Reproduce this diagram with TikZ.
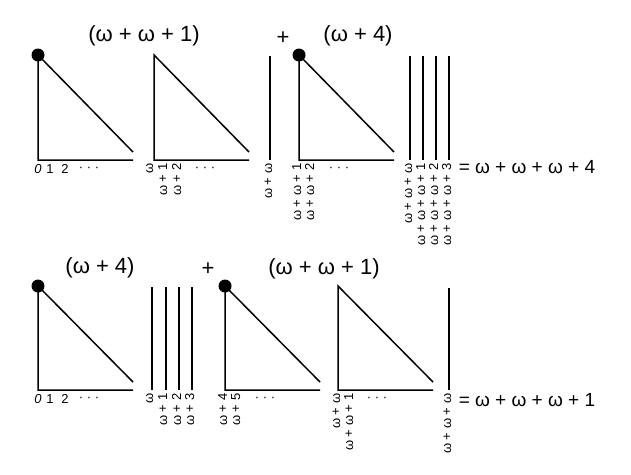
\documentclass[tikz,border=0pt]{standalone}
\usepackage{fontspec}
\usepackage{tikz}
\newfontfamily\sumfont{Liberation Sans}
\newfontfamily\tickfont{Liberation Sans}

\begin{document}
\begin{tikzpicture}[x=1pt, y=-1pt, line width=1.5pt,
    tick/.style={font=\tickfont\fontsize{13}{14}\selectfont, rotate=90, anchor=mid east, inner sep=0pt},
    flat/.style={font=\tickfont\fontsize{13}{14}\selectfont, anchor=base, inner sep=0pt},
    sum/.style={font=\sumfont\fontsize{22}{26}\selectfont, inner sep=0pt},
    eq/.style={font=\sumfont\fontsize{19}{23}\selectfont, anchor=west, inner sep=0pt},
    start/.style={circle, fill, inner sep=0pt, minimum size=13pt}]
  \useasboundingbox (0,0) rectangle (631,474);
  %top row: (w+w+1)
  \draw (133,152) -- (38,55) -- (38,160) -- (133,160);
  \draw (249,152) -- (154,55) -- (154,160) -- (249,160);
  \draw (270,56) -- (270,160);
  %top row: (w+4)
  \draw (394,152) -- (299,55) -- (299,160) -- (394,160);
  \foreach \x in {410,423,436,449} \draw (\x,56) -- (\x,160);
  \node[start] (ta) at (38,55) {};
  \node[start] (tb) at (299,55) {};
  %top sums
  \node[sum] (tl) at (144,36) {(ω + ω + 1)};
  \node[sum] (tp) at (283,38) {+};
  \node[sum] (tr) at (358,36) {(ω + 4)};
  \node[eq] (te) at (458,167) {= ω + ω + ω + 4};
  %top labels
  \node[flat] (t0) at (38,173) {\textit{0}};
  \node[flat] (t1) at (50,173) {1};
  \node[flat] (t2) at (65,173) {2};
  \node[flat] (td1) at (89,171) {· · ·};
  \node[tick] (tw) at (151,163) {ω};
  \node[tick] (tw1) at (165,163) {ω + 1};
  \node[tick] (tw2) at (179,163) {ω + 2};
  \node[flat] (td2) at (205,171) {· · ·};
  \node[tick] (tww) at (270,163) {ω + ω};
  \node[tick] (tww1) at (299,163) {ω + ω + 1};
  \node[tick] (tww2) at (312,163) {ω + ω + 2};
  \node[flat] (td3) at (339,171) {· · ·};
  \node[tick] (twww) at (410,163) {ω + ω + ω};
  \foreach \n/\x in {1/423,2/436,3/449}
    \node[tick] (twww\n) at (\x,163) {ω + ω + ω + \n};

  %bottom row: (w+4)
  \draw (133,382) -- (38,286) -- (38,390) -- (133,390);
  \foreach \x in {152,166,179,192} \draw (\x,287) -- (\x,390);
  %bottom row: (w+w+1)
  \draw (320,382) -- (225,286) -- (225,390) -- (320,390);
  \draw (433,382) -- (338,286) -- (338,390) -- (433,390);
  \draw (449,288) -- (449,390);
  \node[start] (ba) at (38,286) {};
  \node[start] (bb) at (225,286) {};
  %bottom sums
  \node[sum] (bl) at (100,268) {(ω + 4)};
  \node[sum] (bp) at (208,269) {+};
  \node[sum] (br) at (324,269) {(ω + ω + 1)};
  \node[eq] (be) at (458,400) {= ω + ω + ω + 1};
  %bottom labels
  \node[flat] (b0) at (38,403) {\textit{0}};
  \node[flat] (b1) at (50,403) {1};
  \node[flat] (b2) at (65,403) {2};
  \node[flat] (bd1) at (89,401) {· · ·};
  \node[tick] (bw) at (151,393) {ω};
  \foreach \n/\x in {1/165,2/179,3/192}
    \node[tick] (bw\n) at (\x,393) {ω + \n};
  \node[tick] (bw4) at (225,393) {ω + 4};
  \node[tick] (bw5) at (238,393) {ω + 5};
  \node[flat] (bd2) at (265,401) {· · ·};
  \node[tick] (bww) at (338,393) {ω + ω};
  \node[tick] (bww1) at (351,393) {ω + ω + 1};
  \node[flat] (bd3) at (377,401) {· · ·};
  \node[tick] (bwww) at (449,393) {ω + ω + ω};
\end{tikzpicture}
\end{document}
